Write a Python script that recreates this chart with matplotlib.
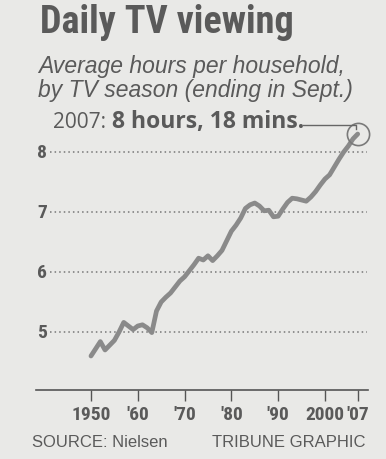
import matplotlib
matplotlib.use("Agg")
import matplotlib.pyplot as plt

# Nielsen daily TV viewing, hours per household, by TV season
years = list(range(1950, 2008))
hours = [4.60, 4.72, 4.84, 4.70, 4.78, 4.86, 5.00, 5.16, 5.10, 5.04,
         5.10, 5.12, 5.07, 4.99, 5.35, 5.50, 5.58, 5.65, 5.75, 5.85,
         5.92, 6.02, 6.12, 6.23, 6.20, 6.27, 6.19, 6.27, 6.36, 6.52,
         6.68, 6.78, 6.90, 7.06, 7.12, 7.15, 7.10, 7.02, 7.03, 6.92,
         6.93, 7.05, 7.16, 7.23, 7.22, 7.20, 7.18, 7.25, 7.34, 7.45,
         7.55, 7.62, 7.75, 7.88, 8.00, 8.10, 8.22, 8.30]
y_ticks = [5, 6, 7, 8]
x_ticks = [1950, 1960, 1970, 1980, 1990, 2000, 2007]
x_labels = ["1950", "'60", "'70", "'80", "'90", "2000", "'07"]

paper = "#e9e9e7"
ink = "#5a5a5a"
narrow = ["Roboto Condensed", "DejaVu Sans"]
plain = ["Liberation Sans", "DejaVu Sans"]
wide = ["Open Sans", "DejaVu Sans"]

fig = plt.figure(figsize=(3.86, 4.60), dpi=100, facecolor=paper)
ax = fig.add_axes([36 / 386, 69 / 460, 332 / 386, 266 / 460])
ax.set_facecolor(paper)
ax.set_xlim(1938.25, 2009.2)
ax.set_ylim(4.033, 8.467)

# dotted gridlines + labels on the left
for v in y_ticks:
    ax.plot([1941.3, 2009.0], [v, v], color="#777777", lw=1.1,
            linestyle=(0, (1, 2)), zorder=1, clip_on=False)
    ax.text(1939.5, v, str(v), ha="center", va="center", fontsize=14,
            fontweight="bold", color=ink, family=narrow)

ax.plot(years, hours, color="#8a8a8a", lw=3.4, solid_joinstyle="round",
        solid_capstyle="round", zorder=3)

# highlight 2007
ax.plot([years[-1]], [hours[-1]], marker="o", ms=16, mfc="none",
        mec="#7a7a7a", mew=1.2, zorder=4, clip_on=False)

for s in ["top", "right", "left"]:
    ax.spines[s].set_visible(False)
ax.spines["bottom"].set_color("#555555")
ax.spines["bottom"].set_linewidth(1.2)
ax.set_yticks([])
ax.set_xticks(x_ticks)
ax.set_xticklabels(x_labels, fontsize=14, fontweight="bold", color=ink,
                   family=narrow)
ax.tick_params(axis="x", direction="out", length=8, width=1, color="#555555",
               pad=3)

fig.text(40 / 386, 1 - 33 / 460, "Daily TV viewing", fontsize=27.5,
         fontweight="bold", color=ink, family=narrow)
fig.text(38 / 386, 1 - 73 / 460, "Average hours per household,",
         fontsize=16.5, style="italic", color=ink, family=plain)
fig.text(38 / 386, 1 - 97 / 460, "by TV season (ending in Sept.)",
         fontsize=16.5, style="italic", color=ink, family=plain)
fig.text(53 / 386, 1 - 128 / 460, "2007:", fontsize=15, color=ink,
         family=wide)
fig.text(112 / 386, 1 - 128 / 460, "8 hours, 18 mins.", fontsize=16.5,
         fontweight="bold", color=ink, family=wide)
# leader line from label to circle
fig.add_artist(plt.Line2D([303 / 386, 356 / 386, 356 / 386],
                          [1 - 126 / 460, 1 - 126 / 460, 1 - 130 / 460],
                          color="#666666", lw=1))

fig.text(32 / 386, 1 - 447 / 460, "SOURCE: Nielsen", fontsize=12,
         color=ink, family=plain)
fig.text(365 / 386, 1 - 447 / 460, "TRIBUNE GRAPHIC", fontsize=12,
         color=ink, family=plain, ha="right")

fig.savefig("out.png", dpi=100, facecolor=paper)
